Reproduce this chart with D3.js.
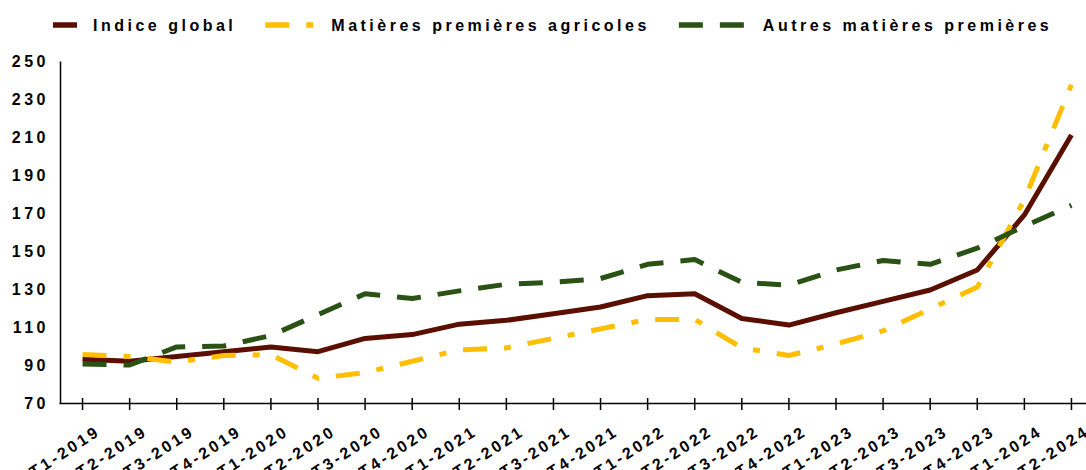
<!DOCTYPE html>
<html>
<head>
<meta charset="utf-8">
<script src="https://cdn.jsdelivr.net/npm/d3@7"></script>
<style>
  html, body { margin: 0; padding: 0; background: #fff; }
  svg text { font-family: "Liberation Sans", Arial, sans-serif; font-weight: bold; fill: #000; }
</style>
</head>
<body>
<div class="visHolder"></div>
<script>
const width = 1086;
const height = 470;

// trimestres
const categories = [
    "T1-2019", "T2-2019", "T3-2019", "T4-2019",
    "T1-2020", "T2-2020", "T3-2020", "T4-2020",
    "T1-2021", "T2-2021", "T3-2021", "T4-2021",
    "T1-2022", "T2-2022", "T3-2022", "T4-2022",
    "T1-2023", "T2-2023", "T3-2023", "T4-2023",
    "T1-2024", "T2-2024"
];

const indiceGlobal = [93, 92, 94.5, 97, 99.5, 97, 104, 106, 111.5, 113.5, 117, 120.5,
    126.5, 127.5, 114.5, 111, 117.5, 123.5, 129.5, 140, 169, 211];
const agricoles = [95.5, 94.5, 91.5, 95, 95.5, 83, 86, 92, 98, 99, 104, 109,
    114, 114, 99, 95, 101, 108, 119.5, 131, 177, 237.5];
const autres = [90.5, 90, 99.5, 100, 105.5, 116.5, 127.5, 125, 129, 132.5, 133.5, 135.5,
    143, 145.5, 133.5, 132, 140, 145, 143, 151.5, 163, 174];

const seriesNames = ["Indice global", "Matières premières agricoles", "Autres matières premières"];
const yTicks = [70, 90, 110, 130, 150, 170, 190, 210, 230, 250];

const series = [
    { name: seriesNames[0], values: indiceGlobal, color: "#5a0f00", dash: null, swatch: 24 },
    { name: seriesNames[1], values: agricoles, color: "#ffbf00", dash: "24,17,7,17", swatch: 50 },
    { name: seriesNames[2], values: autres, color: "#2a5214", dash: "24,17", swatch: 68 }
];

const svg = d3.select(".visHolder")
    .append("svg")
    .attr("width", width)
    .attr("height", height)
    .style("display", "block");

const xScale = d3.scaleBand()
    .domain(categories)
    .range([59, 1095])
    .padding(0);

const yScale = d3.scaleLinear()
    .domain([70, 250])
    .range([403, 61]);

// axe Y
const yAxis = d3.axisLeft(yScale)
    .tickValues(yTicks)
    .tickSize(0)
    .tickSizeOuter(0)
    .tickPadding(11);
const gy = svg.append("g")
    .attr("transform", "translate(60,0)")
    .call(yAxis);
gy.select(".domain").attr("stroke", "#000").attr("stroke-width", 1.5);
gy.selectAll("text")
    .style("font-size", "16px")
    .style("letter-spacing", "3.5px");

// axe X
const xAxis = d3.axisBottom(xScale)
    .tickSize(7)
    .tickSizeOuter(0);
const gx = svg.append("g")
    .attr("transform", "translate(0,403)")
    .call(xAxis);
gx.select(".domain").attr("stroke", "#000").attr("stroke-width", 1.5);
gx.selectAll(".tick line")
    .attr("y1", -5)
    .attr("stroke", "#000")
    .attr("stroke-width", 1.5);
gx.selectAll(".tick text")
    .attr("x", 0)
    .attr("y", 0)
    .attr("dy", null)
    .attr("text-anchor", "end")
    .attr("transform", "translate(19,31) rotate(-33)")
    .style("font-size", "16px")
    .style("letter-spacing", "3px");

// courbes
const line = d3.line()
    .x((d, i) => xScale(categories[i]) + xScale.bandwidth() / 2)
    .y((d) => yScale(d));

series.forEach((s) => {
    svg.append("path")
        .datum(s.values)
        .attr("fill", "none")
        .attr("stroke", s.color)
        .attr("stroke-width", 5)
        .attr("stroke-dasharray", s.dash)
        .attr("stroke-linejoin", "round")
        .attr("d", line);
});

// légende
const legend = svg.append("g").attr("class", "legend");
let lx = 53;
series.forEach((s) => {
    legend.append("line")
        .attr("x1", lx)
        .attr("x2", lx + s.swatch)
        .attr("y1", 25)
        .attr("y2", 25)
        .attr("stroke", s.color)
        .attr("stroke-width", 5.5)
        .attr("stroke-dasharray", s.dash);
    lx += s.swatch + 16;
    const t = legend.append("text")
        .attr("x", lx)
        .attr("y", 30.5)
        .style("font-size", "16px")
        .style("letter-spacing", "3.5px")
        .text(s.name);
    lx += t.node().getComputedTextLength() + 29;
});
</script>
</body>
</html>
